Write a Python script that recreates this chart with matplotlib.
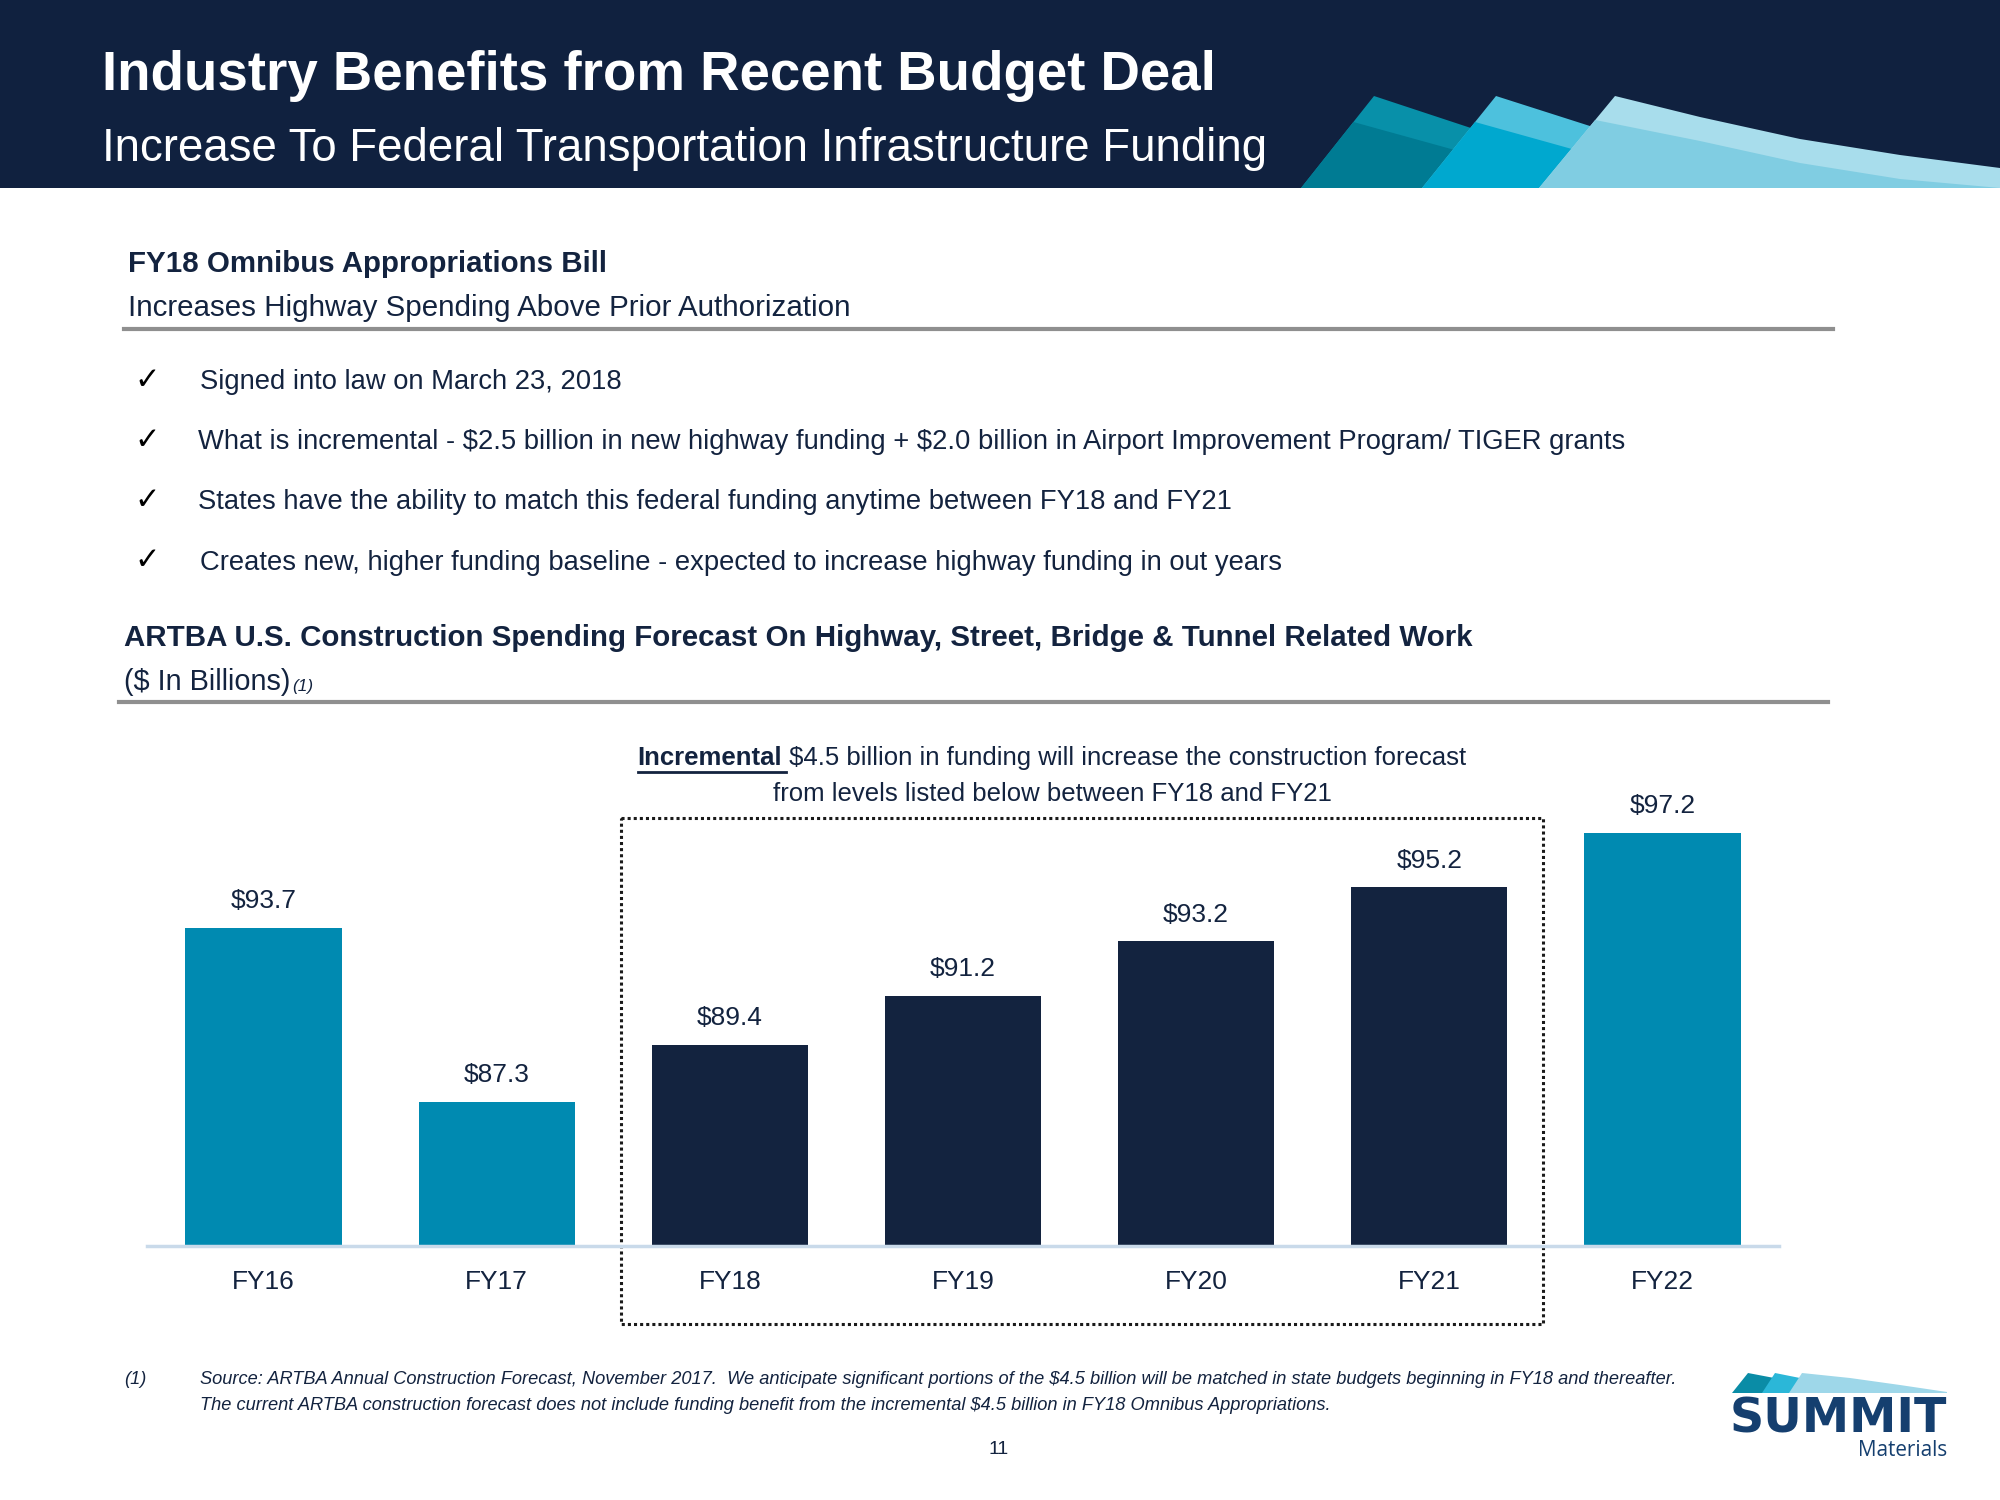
import matplotlib
matplotlib.use('Agg')
import matplotlib.pyplot as plt
from matplotlib.patches import Polygon, Rectangle

plt.rcParams['font.family'] = ['Liberation Sans Narrow', 'Liberation Sans', 'DejaVu Sans']
plt.rcParams['text.parse_math'] = False   # lots of literal "$" in the text

# ---- data -------------------------------------------------------------
years = ['FY16', 'FY17', 'FY18', 'FY19', 'FY20', 'FY21', 'FY22']
spend = [93.7, 87.3, 89.4, 91.2, 93.2, 95.2, 97.2]
in_window = [False, False, True, True, True, True, False]   # FY18-FY21 box

bullets = [
    'Signed into law on March 23, 2018',
    'What is incremental - $2.5 billion in new highway funding + $2.0 billion in Airport Improvement Program/ TIGER grants',
    'States have the ability to match this federal funding anytime between FY18 and FY21',
    'Creates new, higher funding baseline - expected to increase highway funding in out years',
]
footnote = [
    'Source: ARTBA Annual Construction Forecast, November 2017.  We anticipate significant portions of the $4.5 billion will be matched in state budgets beginning in FY18 and thereafter.',
    'The current ARTBA construction forecast does not include funding benefit from the incremental $4.5 billion in FY18 Omnibus Appropriations.',
]

HEADER = '#10213F'
NAVY = '#13233F'
TEAL = '#008AB1'
LOGO = '#153F6F'

fig = plt.figure(figsize=(20, 15), dpi=100)
renderer = fig.canvas.get_renderer()

# background axes in pixel coordinates (0..2000, 0..1500, y down)
bg = fig.add_axes([0, 0, 1, 1])
bg.set_xlim(0, 2000)
bg.set_ylim(1500, 0)
bg.axis('off')


def fit(x, y, s, width, **kw):
    # place text and scale its size so it spans `width` pixels
    t = bg.text(x, y, s, fontsize=20, va='center', **kw)
    w = t.get_window_extent(renderer).width
    t.set_fontsize(20 * width / w)
    return t


def wedge(bx, ax_, top, band, body, off=26, ybot=188, ytop=96):
    pts = [(bx, ybot), (ax_, ytop)] + top + [(top[-1][0], ybot)]
    bg.add_patch(Polygon(pts, closed=True, color=band, lw=0))
    f = off / (ybot - ytop)
    px = ax_ + (bx - ax_) * f
    inner = [(bx, ybot), (px, ytop + off)] + [(x, min(y + off, ybot)) for x, y in top] + [(top[-1][0], ybot)]
    bg.add_patch(Polygon(inner, closed=True, color=body, lw=0))


# ---- header -----------------------------------------------------------
bg.add_patch(Rectangle((0, 0), 2000, 188, color=HEADER, lw=0))
wedge(1301, 1374, [(1480, 131)], '#0890A9', '#007B93')
wedge(1422, 1496, [(1640, 142)], '#4DC1DD', '#00A8CF')
wedge(1539, 1615, [(1700, 117), (1800, 139), (1900, 155), (2000, 168)], '#A8DDEC', '#80CDE2', off=24)

fit(102, 76, 'Industry Benefits from Recent Budget Deal', 1114, color='white', fontweight='bold')
fit(102, 149, 'Increase To Federal Transportation Infrastructure Funding', 1163, color='white')

# ---- bill section -----------------------------------------------------
fit(128, 264, 'FY18 Omnibus Appropriations Bill', 479, color=NAVY, fontweight='bold')
fit(128, 308, 'Increases Highway Spending Above Prior Authorization', 720, color=NAVY)
bg.plot([124, 1833], [329, 329], color='#8F8F8F', lw=3)

bsize = fit(198, 442, bullets[1], 1426, color=NAVY).get_fontsize()
for i, (txt, y) in enumerate(zip(bullets, [382, 442, 502, 563])):
    bg.text(147, y - 2, '\u2713', fontsize=22, color='black', ha='center', va='center',
            family=['DejaVu Sans'])
    if i != 1:
        bg.text(200 if i in (0, 3) else 198, y, txt, fontsize=bsize, color=NAVY, va='center')

# ---- chart heading ----------------------------------------------------
fit(124, 638, 'ARTBA U.S. Construction Spending Forecast On Highway, Street, Bridge & Tunnel Related Work',
    1350, color=NAVY, fontweight='bold')
t = fit(124, 682, '($ In Billions)', 167, color=NAVY)
bg.text(292, 687, '(1)', fontsize=t.get_fontsize() * 0.6, style='italic', color=NAVY, va='center')
bg.plot([119, 1828], [702, 702], color='#8F8F8F', lw=3)

# annotation above the box, "Incremental" bold + underlined
asize = 18.5
t1 = bg.text(0, 758, 'Incremental', fontsize=asize, fontweight='bold', color=NAVY, va='center')
t2 = bg.text(0, 758, ' $4.5 billion in funding will increase the construction forecast',
             fontsize=asize, color=NAVY, va='center')
w1 = t1.get_window_extent(renderer).width
w2 = t2.get_window_extent(renderer).width
x0 = 1052 - (w1 + w2) / 2
t1.set_x(x0)
t2.set_x(x0 + w1)
bg.plot([x0, x0 + w1 + 4], [772, 772], color=NAVY, lw=2)
bg.text(1052, 794, 'from levels listed below between FY18 and FY21', fontsize=asize,
        color=NAVY, ha='center', va='center')

# dotted box around FY18-FY21
bg.add_patch(Rectangle((621, 818), 922, 506, fill=False, ec='#1A1A1A', lw=2.2,
                       ls=(0, (1, 1)), zorder=5))

# ---- bar chart --------------------------------------------------------
ax = fig.add_axes([147 / 2000, 1 - 1246 / 1500, 1632 / 2000, 446 / 1500])
ax.set_facecolor('none')
x = range(len(years))
colors = [NAVY if w else TEAL for w in in_window]
ax.bar(x, spend, width=0.67, color=colors, zorder=2)
for i, v in zip(x, spend):
    ax.annotate(f'${v:.1f}', (i, v), xytext=(0, 19), textcoords='offset points',
                ha='center', va='center', fontsize=19, color=NAVY)
ax.set_xlim(-0.5, 6.5)
ax.set_ylim(82, 82 + 446 / 27.2)
ax.set_xticks(list(x))
ax.set_xticklabels(years, fontsize=19, color=NAVY)
ax.tick_params(axis='x', length=0, pad=17)
ax.set_yticks([])
for s in ['top', 'left', 'right']:
    ax.spines[s].set_visible(False)
ax.spines['bottom'].set_color('#C9DAEA')
ax.spines['bottom'].set_linewidth(2.5)
ax.spines['bottom'].set_zorder(3)

# ---- footnote ---------------------------------------------------------
fsize = fit(200, 1379, footnote[0], 1477, color=NAVY, style='italic').get_fontsize()
bg.text(200, 1406, footnote[1], fontsize=fsize, color=NAVY, style='italic', va='center')
bg.text(124, 1379, '(1)', fontsize=fsize, color=NAVY, style='italic', va='center')
bg.text(999, 1450, '11', fontsize=14, color=NAVY, ha='center', va='center')

# ---- logo -------------------------------------------------------------
bg.add_patch(Polygon([(1732, 1393), (1748, 1373), (1790, 1381), (1790, 1393)], color='#0A8CA6', lw=0))
bg.add_patch(Polygon([(1762, 1393), (1775, 1373), (1815, 1381), (1815, 1393)], color='#2BB7D8', lw=0))
bg.add_patch(Polygon([(1789, 1393), (1802, 1373), (1850, 1378), (1900, 1385), (1947, 1392),
                      (1947, 1393)], color='#9ED7E9', lw=0))
fit(1730, 1419, 'SUMMIT', 217, color=LOGO, fontweight='heavy', family=['DejaVu Sans'])
fit(1858, 1450, 'Materials', 89, color=LOGO, family=['Open Sans', 'DejaVu Sans'])

fig.savefig('out.png', dpi=100)
